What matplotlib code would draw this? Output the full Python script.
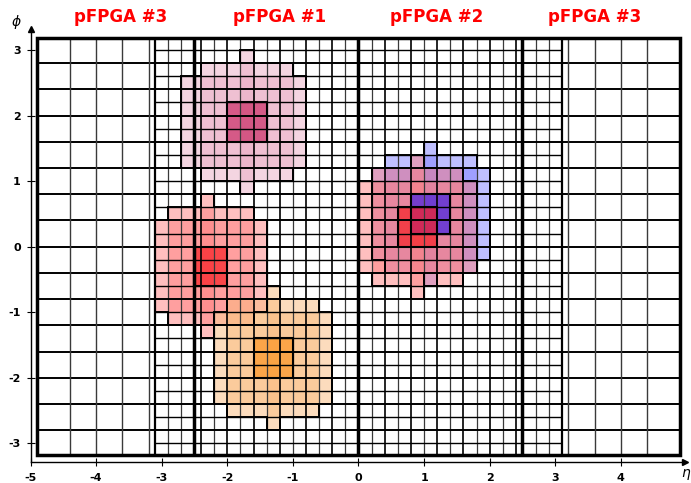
import matplotlib
matplotlib.use("Agg")
import matplotlib.pyplot as plt
from matplotlib.patches import Rectangle, Polygon

plt.rcParams["font.family"] = ["DejaVu Sans"]
plt.rcParams["axes.unicode_minus"] = False

# ---- layout of the eta-phi plane ----
ETA_EDGE = 4.9      # outer border in eta
PHI_EDGE = 3.18     # outer border in phi
FINE_EDGE = 3.1     # extent of the fine tower grid in eta

fine_eta_lines = [-2.9, -2.7, -2.4, -2.2, -2.0, -1.8, -1.6, -1.4, -1.2, -1.0, -0.8, -0.6, -0.4, -0.2,
                  0.2, 0.4, 0.6, 0.8, 1.0, 1.2, 1.4, 1.6, 1.8, 2.0, 2.2, 2.4, 2.7, 2.9]
fine_phi_lines = [-3.0, -2.6, -2.2, -1.8, -1.4, -1.0, -0.6, -0.2, 0.2, 0.6, 1.0, 1.4, 1.8, 2.2, 2.6, 3.0]
coarse_phi_lines = [-2.8, -2.4, -2.0, -1.6, -1.2, -0.8, -0.4, 0.0, 0.4, 0.8, 1.2, 1.6, 2.0, 2.4, 2.8]
hf_eta_lines = [-4.4, -4.0, -3.6, -3.2, 3.2, 3.6, 4.0, 4.4]
region_edges = [-2.5, 0.0, 2.5]

region_names = ["pFPGA #3", "pFPGA #1", "pFPGA #2", "pFPGA #3"]
region_label_eta = [-3.62, -1.21, 1.19, 3.60]

x_ticks = [-5, -4, -3, -2, -1, 0, 1, 2, 3, 4]
y_ticks = [-3, -2, -1, 0, 1, 2, 3]

# ---- energy deposits, boxes given as (eta_lo, eta_hi, phi_lo, phi_hi) ----
cluster_names = ["blue", "red_b", "pink", "red_a", "orange"]
strip_boxes = [(1.0, 1.2, -0.6, 1.6), (0.8, 1.0, -0.8, 1.4), (-1.8, -1.6, 0.8, 3.0),
               (-2.4, -2.2, -1.4, 0.8), (-1.4, -1.2, -2.8, -0.6)]
tall_boxes = [(0.4, 1.8, -0.4, 1.4), (0.2, 1.6, -0.6, 1.2), (-2.4, -1.0, 1.0, 2.8),
              (-2.9, -1.6, -1.2, 0.6), (-2.0, -0.6, -2.6, -0.8)]
wide_boxes = [(0.2, 2.0, -0.2, 1.2), (0.0, 1.8, -0.4, 1.0), (-2.7, -0.8, 1.2, 2.6),
              (-3.1, -1.4, -1.0, 0.4), (-2.2, -0.4, -2.4, -1.0)]
core_boxes = [(0.8, 1.4, 0.2, 0.8), (0.6, 1.2, 0.0, 0.6), (-2.0, -1.4, 1.6, 2.2),
              (-2.5, -2.0, -0.6, 0.0), (-1.6, -1.0, -2.0, -1.4)]
halo_colors = ["#8181ff", "#ff8181", "#ebadc5", "#ff8181", "#fbbb7d"]
core_colors = ["#4021e5", "#f82227", "#ca2f67", "#f82227", "#fc9626"]
HALO_ALPHA = 0.5
CORE_ALPHA = 0.7


def box_patch(box, **kw):
    e0, e1, p0, p1 = box
    return Rectangle((e0, p0), e1 - e0, p1 - p0, **kw)


def cross_outline(strip, tall, wide):
    s0, s1, sp0, sp1 = strip
    t0, t1, tp0, tp1 = tall
    w0, w1, wp0, wp1 = wide
    return [(s0, sp1), (s1, sp1), (s1, tp1), (t1, tp1), (t1, wp1), (w1, wp1),
            (w1, wp0), (t1, wp0), (t1, tp0), (s1, tp0), (s1, sp0), (s0, sp0),
            (s0, tp0), (t0, tp0), (t0, wp0), (w0, wp0), (w0, wp1), (t0, wp1),
            (t0, tp1), (s0, tp1)]


fig = plt.figure(figsize=(6.91, 4.83), dpi=100)
ax = fig.add_axes([0, 0, 1, 1])
ax.set_xlim(-5.465, 5.069)
ax.set_ylim(-3.604, 3.763)

# deposits: halo layers first, then the cores on top
for i in range(len(cluster_names)):
    for box in (tall_boxes[i], wide_boxes[i], strip_boxes[i]):
        ax.add_patch(box_patch(box, facecolor=halo_colors[i], alpha=HALO_ALPHA,
                               edgecolor="none", zorder=1))
for i in range(len(cluster_names)):
    ax.add_patch(box_patch(core_boxes[i], facecolor=core_colors[i], alpha=CORE_ALPHA,
                           edgecolor="none", zorder=2))

# tower grid
for x in fine_eta_lines:
    coarse = abs(x / 0.4 - round(x / 0.4)) < 1e-6
    ax.vlines(x, -PHI_EDGE, PHI_EDGE, colors="black" if coarse else "#3a3a3a",
              linewidth=1.2 if coarse else 0.9, zorder=3)
for y in fine_phi_lines:
    ax.hlines(y, -FINE_EDGE, FINE_EDGE, colors="black", linewidth=1.0, zorder=3)
for y in coarse_phi_lines:
    ax.hlines(y, -ETA_EDGE, ETA_EDGE, colors="black", linewidth=1.4, zorder=3)
for x in hf_eta_lines:
    ax.vlines(x, -PHI_EDGE, PHI_EDGE, colors="#3a3a3a", linewidth=1.0, zorder=3)
ax.vlines([-FINE_EDGE, FINE_EDGE], -PHI_EDGE, PHI_EDGE, colors="black", linewidth=1.6, zorder=3)

# deposit outlines
for i in range(len(cluster_names)):
    ax.add_patch(Polygon(cross_outline(strip_boxes[i], tall_boxes[i], wide_boxes[i]),
                         closed=True, fill=False, edgecolor="black", linewidth=1.4, zorder=4))
    ax.add_patch(box_patch(core_boxes[i], fill=False, edgecolor="black", linewidth=1.5, zorder=4))

# processor boundaries and outer frame
ax.vlines(region_edges, -PHI_EDGE, PHI_EDGE, colors="black", linewidth=2.5, zorder=5)
ax.add_patch(Rectangle((-ETA_EDGE, -PHI_EDGE), 2 * ETA_EDGE, 2 * PHI_EDGE, fill=False,
                       edgecolor="black", linewidth=2.5, zorder=5))

for name, x in zip(region_names, region_label_eta):
    ax.text(x, 3.50, name, color="red", fontsize=12, fontweight="bold",
            ha="center", va="center")

# axes drawn as arrows through the lower-left corner
AXIS_Y = -3.28
AXIS_X = -5.0
for side in ("top", "right"):
    ax.spines[side].set_visible(False)
ax.spines["left"].set_position(("data", AXIS_X))
ax.spines["bottom"].set_position(("data", AXIS_Y))
ax.spines["left"].set_bounds(AXIS_Y, 3.30)
ax.spines["bottom"].set_bounds(AXIS_X, 4.96)
ax.spines["left"].set_linewidth(1.0)
ax.spines["bottom"].set_linewidth(1.0)
ax.plot([4.97], [AXIS_Y], marker=">", color="black", markersize=4, clip_on=False)
ax.plot([AXIS_X], [3.32], marker="^", color="black", markersize=4, clip_on=False)

ax.set_xticks(x_ticks)
ax.set_yticks(y_ticks)
ax.set_xticklabels([str(t) for t in x_ticks])
ax.set_yticklabels([str(t) for t in y_ticks])
ax.tick_params(direction="inout", length=6, width=0.8, labelsize=8, pad=4)
ax.tick_params(axis="x", pad=5)
for lab in ax.get_xticklabels() + ax.get_yticklabels():
    lab.set_fontweight("bold")

ax.text(-5.21, 3.42, r"$\phi$", fontsize=10, ha="center", va="center")
ax.text(4.99, -3.47, r"$\eta$", fontsize=10, ha="center", va="center")

fig.savefig("out.png", dpi=100, facecolor="white")
